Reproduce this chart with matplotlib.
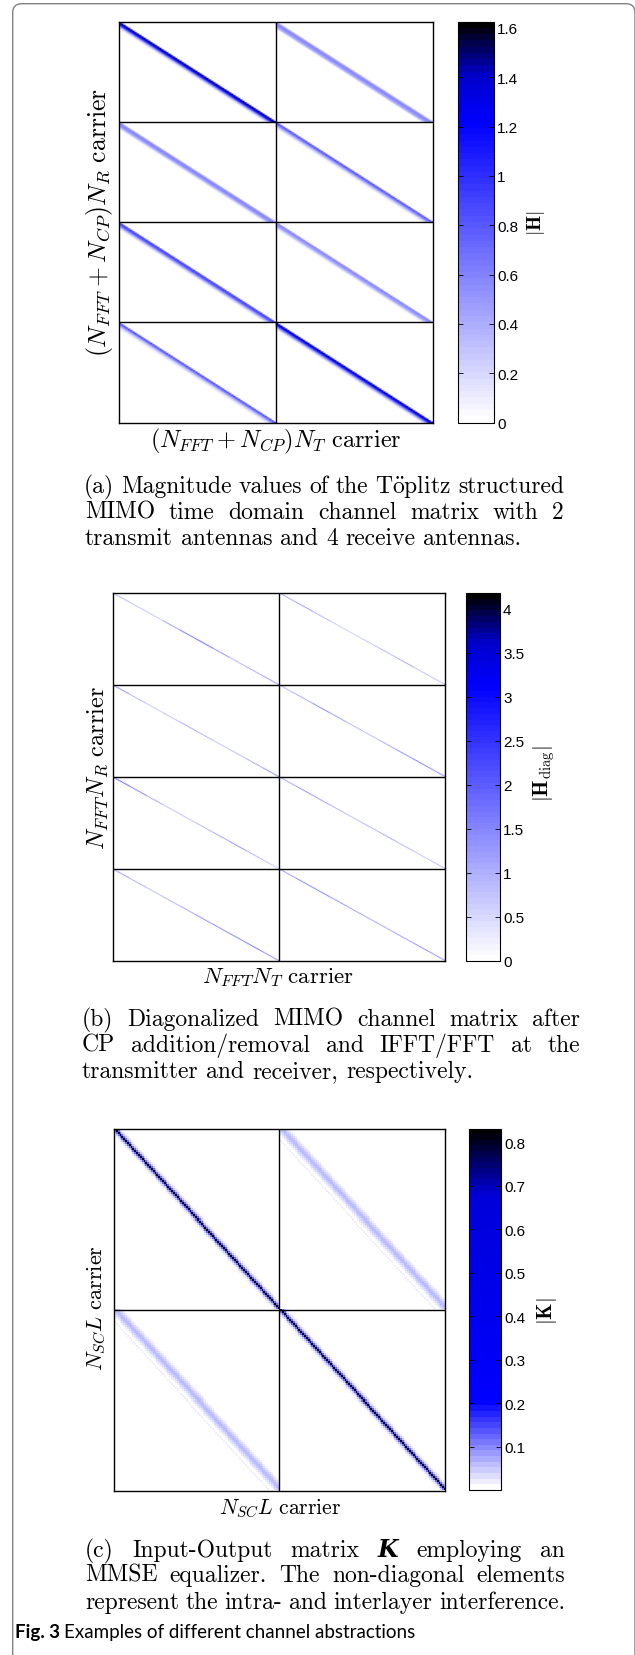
import numpy as np
import matplotlib
matplotlib.use("Agg")
import matplotlib.pyplot as plt
from matplotlib.colors import LinearSegmentedColormap
from matplotlib.patches import FancyBboxPatch
from matplotlib.transforms import IdentityTransform

plt.rcParams['mathtext.fontset'] = 'cm'

W, H = 635, 1656

# ---- data ----
# (a) time domain channel taps, one list per receive antenna, per transmit antenna
taps_a_tx1 = [[1.45, 1.30, 0.95, 0.45, 0.20],
              [0.50, 0.60, 0.55, 0.40, 0.20],
              [0.90, 0.85, 0.65, 0.35, 0.15],
              [0.90, 0.65, 0.40, 0.20, 0.10]]
taps_a_tx2 = [[0.45, 0.60, 0.55, 0.45, 0.30],
              [0.85, 0.70, 0.45, 0.25, 0.10],
              [0.60, 0.55, 0.45, 0.30, 0.10],
              [1.40, 1.25, 0.85, 0.45, 0.20]]

# (b) magnitude along the diagonal (10 segments along frequency)
diag_b_tx1 = [[1.2, 1.0, 0.9, 1.6, 2.2, 2.4, 1.8, 1.2, 1.4, 1.6],
              [1.8, 1.2, 0.9, 1.1, 1.4, 1.3, 1.0, 1.1, 1.4, 1.7],
              [2.4, 2.0, 1.4, 1.0, 1.0, 1.2, 1.5, 1.7, 1.3, 0.9],
              [1.6, 1.3, 1.1, 1.2, 1.5, 1.8, 1.9, 2.0, 2.2, 1.8]]
diag_b_tx2 = [[1.4, 1.6, 1.2, 0.9, 0.8, 1.0, 1.2, 1.4, 1.1, 1.0],
              [1.2, 1.4, 1.9, 1.6, 1.2, 1.1, 1.4, 1.8, 2.0, 1.8],
              [1.5, 1.7, 1.6, 1.3, 1.1, 1.2, 1.4, 1.2, 1.0, 1.1],
              [1.6, 1.9, 2.0, 1.8, 1.6, 1.5, 1.4, 1.6, 1.8, 1.7]]

# (c) band profile of K: offsets from the block diagonal and magnitudes
k_main_offsets = [-3, -2, -1, 0, 1, 2, 3]
k_main_values = [0.015, 0.04, 0.12, 0.82, 0.12, 0.04, 0.015]
k_cross_offsets = [-4, -3, -2, -1, 0, 1, 2, 3, 6]
k_cross_values = [0.015, 0.035, 0.05, 0.055, 0.055, 0.05, 0.035, 0.015, 0.02]

ticks_a = [0, 0.2, 0.4, 0.6, 0.8, 1.0, 1.2, 1.4, 1.6]
labels_a = ['0', '0.2', '0.4', '0.6', '0.8', '1', '1.2', '1.4', '1.6']
ticks_b = [0, 0.5, 1, 1.5, 2, 2.5, 3, 3.5, 4]
labels_b = ['0', '0.5', '1', '1.5', '2', '2.5', '3', '3.5', '4']
ticks_c = [0.1, 0.2, 0.3, 0.4, 0.5, 0.6, 0.7, 0.8]
labels_c = ['0.1', '0.2', '0.3', '0.4', '0.5', '0.6', '0.7', '0.8']

# ---- build matrices ----
Na, Nb, Nc = 70, 110, 90

A = np.zeros((4 * Na, 2 * Na))
for t, col in enumerate([taps_a_tx1, taps_a_tx2]):
    for r, taps in enumerate(col):
        blk = sum(h * np.eye(Na, k=-i) for i, h in enumerate(taps))
        A[r*Na:(r+1)*Na, t*Na:(t+1)*Na] = blk

B = np.zeros((4 * Nb, 2 * Nb))
for t, col in enumerate([diag_b_tx1, diag_b_tx2]):
    for r, vals in enumerate(col):
        d = np.repeat(vals, Nb // len(vals))
        B[r*Nb:(r+1)*Nb, t*Nb:(t+1)*Nb] = np.diag(d)

K = np.zeros((2 * Nc, 2 * Nc))
for r in range(2):
    for t in range(2):
        offs, vals = (k_main_offsets, k_main_values) if r == t else (k_cross_offsets, k_cross_values)
        blk = sum(v * np.eye(Nc, k=-o) for o, v in zip(offs, vals))
        K[r*Nc:(r+1)*Nc, t*Nc:(t+1)*Nc] = blk

cmap_ab = LinearSegmentedColormap.from_list(
    'wbk', [(0, (1, 1, 1)), (0.75, (0, 0, 1)), (0.87, (0, 0, 0.8)), (1, (0, 0, 0))], N=64)
cmap_c = LinearSegmentedColormap.from_list(
    'wbk_c', [(0, (1, 1, 1)), (0.24, (0, 0, 1)), (0.82, (0, 0, 0.85)), (1, (0, 0, 0))], N=64)

fig = plt.figure(figsize=(W / 100, H / 100), dpi=100)
rend = fig.canvas.get_renderer()


def box(x0, y0, x1, y1):
    return [x0 / W, 1 - y1 / H, (x1 - x0) / W, (y1 - y0) / H]


def txt(x, y, s, **kw):
    return fig.text(x / W, 1 - y / H, s, **kw)


def matrix_panel(M, pos, cpos, cmap, vmax, nrow, ncol, n, ticks, labels, interp):
    ax = fig.add_axes(box(*pos))
    im = ax.imshow(M, cmap=cmap, vmin=0, vmax=vmax, aspect='auto',
                   interpolation=interp, extent=(0, ncol * n, nrow * n, 0))
    for i in range(1, ncol):
        ax.axvline(i * n, color='k', lw=1.0)
    for i in range(1, nrow):
        ax.axhline(i * n, color='k', lw=1.0)
    ax.set_xticks([])
    ax.set_yticks([])
    for s in ax.spines.values():
        s.set_linewidth(1.0)
    cax = fig.add_axes(box(*cpos))
    cb = fig.colorbar(im, cax=cax, ticks=ticks)
    cb.outline.set_linewidth(0.8)
    cax.set_yticklabels(labels, family='Liberation Sans', fontsize=11)
    cax.tick_params(direction='in', left=True, right=True, length=3.5, width=0.6, pad=2.2)
    return ax


matrix_panel(A, (119, 22.5, 433, 423.5), (458, 22.5, 494, 423.5), cmap_ab, 1.626,
             4, 2, Na, ticks_a, labels_a, 'bilinear')
matrix_panel(B, (113, 594, 445, 962), (466, 594, 500, 962), cmap_ab, 4.18,
             4, 2, Nb, ticks_b, labels_b, 'bilinear')
matrix_panel(K, (113.5, 1130, 445, 1491.5), (469, 1129.5, 501, 1491), cmap_c, 0.832,
             2, 2, Nc, ticks_c, labels_c, 'nearest')

# axis and colorbar labels
c = dict(ha='center', va='center')
txt(276, 441, r'$(N_{FFT}+N_{CP})N_T\ \mathrm{carrier}$', fontsize=17.5, **c)
txt(100, 222, r'$(N_{FFT}+N_{CP})N_R\ \mathrm{carrier}$', fontsize=18.5, rotation=90, **c)
txt(536, 223, r'$|\mathbf{H}|$', fontsize=14, rotation=90, **c)

txt(278, 978, r'$N_{FFT}N_T\ \mathrm{carrier}$', fontsize=16.5, **c)
txt(98, 768, r'$N_{FFT}N_R\ \mathrm{carrier}$', fontsize=17.5, rotation=90, **c)
txt(544, 774, r'$|\mathbf{H}_{\mathrm{diag}}|$', fontsize=15, rotation=90, **c)

txt(280, 1508, r'$N_{SC}L\ \mathrm{carrier}$', fontsize=15.5, **c)
txt(97, 1308, r'$N_{SC}L\ \mathrm{carrier}$', fontsize=16, rotation=90, **c)
txt(547, 1311, r'$|\mathbf{K}|$', fontsize=15, rotation=90, **c)


def caption_line(words, x0, x1, ybase, justify, size=17):
    arts = []
    for w in words:
        s, extra = w if isinstance(w, tuple) else (w, {})
        kw = dict(family=['cmr10', 'DejaVu Serif'], fontsize=size)
        kw.update(extra)
        arts.append(txt(0, ybase, s, ha='left', va='baseline', **kw))
    widths = [a.get_window_extent(renderer=rend).width for a in arts]
    space = size * 100 / 72 * 0.333
    if justify and len(arts) > 1:
        gap = max((x1 - x0 - sum(widths)) / (len(arts) - 1), 0.6 * space)
    else:
        gap = space
    x = x0
    for a, w in zip(arts, widths):
        a.set_x(x / W)
        x += w + gap


caption_line('(a) Magnitude values of the'.split() + [r'T$\ddot{\mathrm{o}}$plitz', 'structured'],
             84, 564, 493, True)
caption_line('MIMO time domain channel matrix with 2'.split(), 85, 564, 519, True)
caption_line('transmit antennas and 4 receive antennas.'.split(), 85, 564, 545, False)

caption_line('(b) Diagonalized MIMO channel matrix after'.split(), 82, 580, 1026, True)
caption_line('CP addition/removal and IFFT/FFT at the'.split(), 82, 580, 1052, True)
caption_line('transmitter and receiver, respectively.'.split(), 82, 580, 1078, False)

kbold = ('K', dict(family='DejaVu Serif', weight='bold', style='italic'))
caption_line(['(c)', 'Input-Output', 'matrix', kbold, 'employing', 'an'], 85, 565, 1557, True)
caption_line('MMSE equalizer. The non-diagonal elements'.split(), 85, 565, 1582, True)
caption_line('represent the intra- and interlayer interference.'.split(), 85, 565, 1609, True)

# figure caption
f1 = txt(15, 1638, 'Fig. 3', family='Lato', weight='bold', fontsize=13.5, ha='left', va='baseline')
w1 = f1.get_window_extent(renderer=rend).width
txt(15 + w1 + 4, 1638, 'Examples of different channel abstractions', family='Lato',
    fontsize=13.5, ha='left', va='baseline')

# page frame
frame = FancyBboxPatch((12.7, -60), 635 - 12.7, 1651.3 + 60,
                       boxstyle='round,pad=0,rounding_size=9', transform=IdentityTransform(),
                       facecolor='none', edgecolor='#808080', lw=1.0)
fig.add_artist(frame)

fig.savefig('out.png', dpi=100)
